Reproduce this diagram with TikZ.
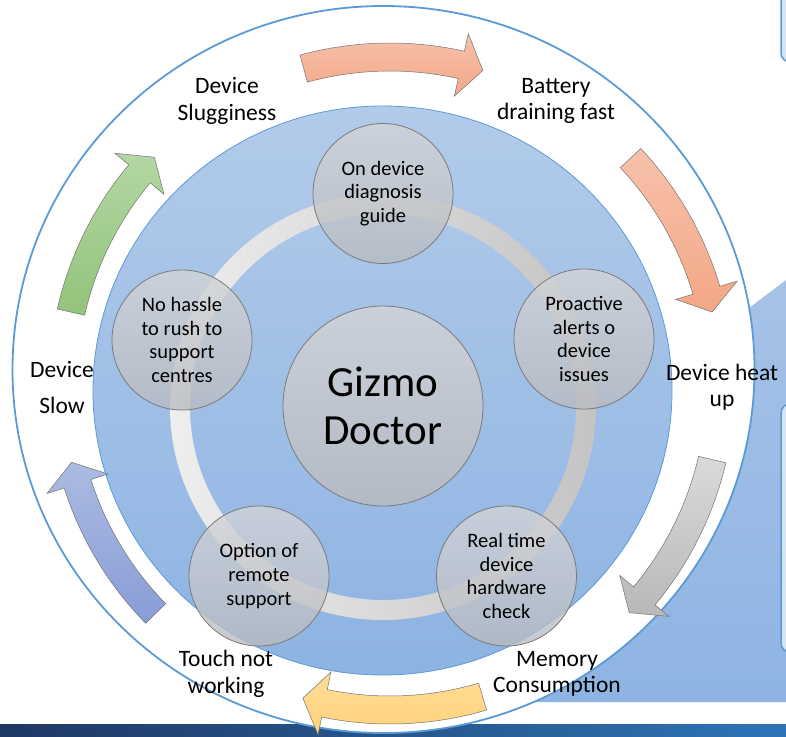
\documentclass[tikz,border=0pt]{standalone}
\usepackage{fontspec}
\setmainfont{Carlito}
\definecolor{outl}{HTML}{5B9BD5}
\definecolor{blueT}{HTML}{B2CBEA}
\definecolor{blueB}{HTML}{8DB3E2}
\definecolor{regT}{HTML}{A6C2E7}
\definecolor{regB}{HTML}{8EB4E3}
\definecolor{boxfill}{HTML}{D8E3F2}
\definecolor{barL}{HTML}{1F3864}
\definecolor{barR}{HTML}{2E75B6}
\definecolor{ringL}{HTML}{EEEEEE}
\definecolor{ringR}{HTML}{C4C4C4}
\definecolor{cTop}{HTML}{D2D4D8}
\definecolor{cBot}{HTML}{B8BBC0}
\definecolor{circedge}{HTML}{7A7A7A}
\definecolor{salT}{HTML}{F8C1AB}
\definecolor{salB}{HTML}{F3A786}
\definecolor{grT}{HTML}{DADADA}
\definecolor{grB}{HTML}{B8B8B8}
\definecolor{yeT}{HTML}{FFDD96}
\definecolor{yeB}{HTML}{FFD27C}
\definecolor{buT}{HTML}{ADBBE2}
\definecolor{buB}{HTML}{889CD6}
\definecolor{gnT}{HTML}{B4D7A3}
\definecolor{gnB}{HTML}{92C37B}
\newcommand\cycarrow[4]{%
  \pgfmathsetmacro\CAro{#3+14}\pgfmathsetmacro\CAri{#3-14}%
  \pgfmathsetmacro\CAhro{#3+32}\pgfmathsetmacro\CAhri{#3-32}%
  \pgfmathsetmacro\CAhb{#2+3.9}%
  \path[arrowshape,#4] (#1:\CAro pt) arc[start angle=#1, end angle=\CAhb, radius=\CAro pt]
    -- (\CAhb:\CAhro pt) -- (#2:#3pt) -- (\CAhb:\CAhri pt) -- (\CAhb:\CAri pt)
    arc[start angle=\CAhb, end angle=#1, radius=\CAri pt] -- cycle;}
\begin{document}
\begin{tikzpicture}[x=1pt,y=-1pt,
  lbl/.style={font=\fontsize{23.5}{26.5}\selectfont, align=center, inner sep=0pt, text=black},
  smallc/.style={circle, minimum size=140pt, inner sep=0pt, draw=circedge, line width=0.8pt,
    top color=cTop, bottom color=cBot, fill opacity=0.8, text opacity=1,
    font=\fontsize{20.5}{23.8}\selectfont, align=center, text=black},
  bigc/.style={circle, minimum size=200pt, inner sep=0pt, draw=circedge, line width=0.8pt,
    top color=cTop, bottom color=cBot, fill opacity=0.85, text opacity=1,
    font=\fontsize{43}{48}\selectfont, align=center, text=black},
  arrowshape/.style={draw=black!55, line width=0.5pt}]
\useasboundingbox (0,0) rectangle (786,736);
\fill[white] (0,0) rectangle (786,736);
% bottom bar
\shade[left color=barL, right color=barR] (0,724) rectangle (786,736);
% right blue region
\shade[top color=regT, bottom color=regB] (786,280) -- (720,330) -- (500,702) -- (786,702) -- cycle;
% right boxes
\draw[fill=boxfill, draw=outl, line width=1.5pt, rounded corners=9pt] (781,-30) rectangle (810,62);
\draw[fill=boxfill, draw=outl, line width=1.5pt, rounded corners=9pt] (781,404) rectangle (810,652);
% outer circle
\draw[draw=outl, line width=1.8pt, fill=white] (383.5,369.5) ellipse[x radius=371pt, y radius=363.5pt];
% inner blue circle
\shade[top color=blueT, bottom color=blueB] (382.5,390.5) ellipse[x radius=289.5pt, y radius=284.5pt];
\draw[draw=outl, line width=0.8pt] (382.5,390.5) ellipse[x radius=289.5pt, y radius=284.5pt];
% ring
\shade[left color=ringL, right color=ringR, even odd rule] (383,407) circle[radius=213pt] (383,407) circle[radius=193pt];
% arrows
\begin{scope}[shift={(390,384)}]
\cycarrow{105.3}{73.5}{327}{top color=salT, bottom color=salB}
\cycarrow{43.2}{12.6}{330}{top color=salT, bottom color=salB}
\cycarrow{-13.2}{-43.7}{331}{top color=grT, bottom color=grB}
\cycarrow{-73.5}{-105.5}{326}{top color=yeT, bottom color=yeB}
\cycarrow{-135.6}{-166.2}{328}{top color=buT, bottom color=buB}
\cycarrow{167.3}{136.1}{327}{top color=gnT, bottom color=gnB}
\end{scope}
% circles
\node[bigc] (gd) at (383,406) {Gizmo\\Doctor};
\node[smallc] (c1) at (383,193.5) {On device\\diagnosis\\guide};
\node[smallc] (c2) at (584,339) {Proactive\\alerts o\\device\\issues};
\node[smallc] (c3) at (506.5,576) {Real time\\device\\hardware\\check};
\node[smallc] (c4) at (259,576) {Option of\\remote\\support};
\node[smallc] (c5) at (182,340) {No hassle\\to rush to\\support\\centres};
% labels
\node[lbl] (t1) at (227,101) {Device\\Slugginess};
\node[lbl] (t2) at (556,101) {Battery\\draining fast};
\node[lbl] (t3) at (722,387) {Device heat\\up};
\node[lbl] (t4) at (557,674) {Memory\\Consumption};
\node[lbl] (t5) at (226,674) {Touch not\\working};
\node[lbl, font=\fontsize{23.5}{36}\selectfont] (t6) at (62,387) {Device\\Slow};
\end{tikzpicture}
\end{document}
